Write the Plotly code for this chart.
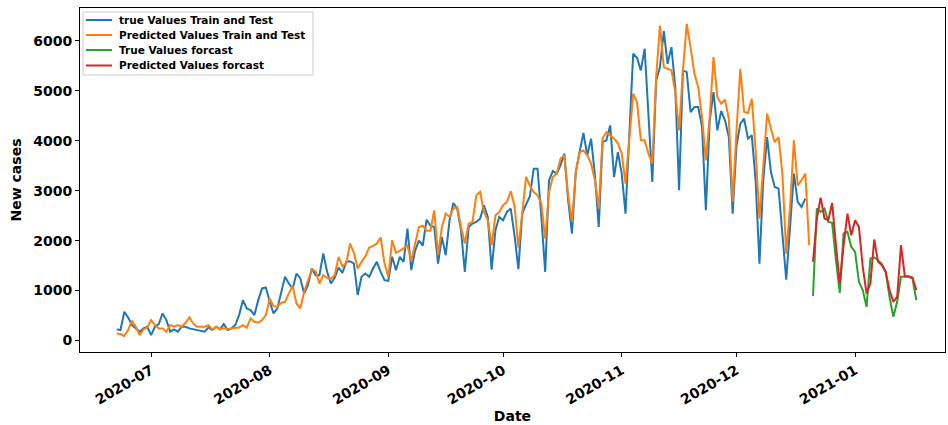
import plotly.graph_objects as go
import pandas as pd

# ---- data ----
true_train = [
    223, 210, 576, 462, 310, 243, 176, 243, 276, 109,
    276, 329, 542, 409, 176, 222, 176, 276, 276, 243,
    229, 209, 196, 176, 262, 209, 276, 222, 329, 209,
    243, 309, 509, 809, 643, 609, 509, 809, 1043, 1063,
    776, 542, 643, 976, 1275, 1142, 1042, 1342, 1242, 942,
    1109, 1442, 1309, 1309, 1742, 1376, 1142, 1262, 1462, 1356,
    1576, 1589, 1542, 909, 1276, 1342, 1276, 1442, 1576, 1376,
    1209, 1196, 1676, 1409, 1676, 1576, 2243, 1409, 1800, 2000,
    1900, 2420, 2300, 2275, 1542, 2075, 1708, 2408, 2755, 2642,
    2208, 1375, 2275, 2342, 2375, 2442, 2709, 2475, 1421, 2208,
    2475, 2408, 2575, 2642, 2100, 1430, 2542, 2720, 2890, 3442,
    3442, 2475, 1375, 3208, 3395, 3342, 3509, 3742, 2809, 2142,
    3375, 3775, 4156, 3709, 4042, 3309, 2275, 3975, 4009, 4309,
    3275, 3775, 3342, 2542, 4000, 5743, 5663, 5410, 5843, 4476,
    3175, 5210, 5476, 6196, 5543, 5876, 5076, 3008, 5410, 5376,
    4576, 4676, 4676, 4276, 2608, 4409, 4976, 4209, 4596, 4409,
    4076, 2542, 3900, 4343, 4443, 4043, 4109, 3209, 1541, 3209,
    4076, 3375, 3075, 3042, 2208, 1221, 2275, 3342, 2775, 2675, 2842,
]

pred_train = [
    142, 129, 89, 209, 396, 276, 109, 222, 262, 409,
    309, 243, 243, 176, 309, 276, 309, 276, 356, 463,
    342, 276, 276, 276, 309, 222, 276, 229, 243, 229,
    243, 256, 262, 309, 256, 443, 376, 356, 409, 509,
    843, 689, 676, 755, 775, 942, 1089, 742, 642, 976,
    1222, 1422, 1389, 1142, 1309, 1256, 1242, 1309, 1676, 1489,
    1542, 1943, 1756, 1442, 1576, 1689, 1862, 1890, 1943, 2063,
    1542, 1276, 2009, 1756, 1796, 1842, 1900, 1600, 1950, 2275,
    2300, 2200, 2200, 2609, 1708, 2275, 2542, 2475, 2642, 2675,
    2275, 1942, 2342, 2375, 2909, 2975, 2575, 2408, 1908, 2508,
    2575, 2709, 2775, 2990, 2690, 1860, 2540, 3276, 3100, 2975,
    2908, 2742, 2042, 2975, 3275, 3342, 3642, 3709, 2908, 2375,
    3375, 3775, 3808, 3709, 3542, 3209, 2642, 4050, 4176, 4110,
    4043, 3950, 3750, 3142, 4000, 4943, 4776, 4009, 4009, 3742,
    3542, 5276, 6310, 5476, 5443, 5410, 4976, 4209, 5410, 6343,
    5876, 5343, 5076, 4476, 3609, 4476, 5676, 4876, 4743, 4823,
    4443, 2775, 4200, 5443, 4576, 4556, 4843, 3809, 2442, 3600,
    4543, 4243, 3975, 4076, 3342, 1741, 2675, 4009, 3109, 3209, 3342, 1908,
]

true_forecast = [
    889, 2643, 2576, 2643, 2376, 2356, 1609, 955, 2143, 2176,
    1876, 1776, 1176, 1009, 675, 1643, 1663, 1609, 1529, 1376,
    875, 475, 775, 1276, 1276, 1276, 1243, 809,
]

pred_forecast = [
    1576, 2443, 2863, 2443, 2410, 2756, 1910, 1142, 1910, 2543,
    2109, 2410, 2276, 1476, 942, 1142, 2023, 1576, 1509, 1376,
    1009, 775, 875, 1910, 1289, 1289, 1263, 1009,
]

series_names = ["true Values Train and Test", "Predicted Values Train and Test",
                "True Values forcast", "Predicted Values forcast"]
series_colors = ["#1f77b4", "#ff7f0e", "#2ca02c", "#d62728"]

train_start = "2020-06-22"
forecast_start = "2020-12-21"

tick_dates = ["2020-07-01", "2020-08-01", "2020-09-01", "2020-10-01",
              "2020-11-01", "2020-12-01", "2021-01-01"]
tick_labels = ["2020-07", "2020-08", "2020-09", "2020-10",
               "2020-11", "2020-12", "2021-01"]
y_ticks = [0, 1000, 2000, 3000, 4000, 5000, 6000]

true_dates = pd.date_range(train_start, periods=len(true_train), freq="D")
pred_dates = pd.date_range(train_start, periods=len(pred_train), freq="D")
fc_dates = pd.date_range(forecast_start, periods=len(true_forecast), freq="D")

FONT = "DejaVu Sans"

fig = go.Figure()
for xs, ys, name, color in zip([true_dates, pred_dates, fc_dates, fc_dates],
                               [true_train, pred_train, true_forecast, pred_forecast],
                               series_names, series_colors):
    fig.add_trace(go.Scatter(x=xs, y=ys, mode="lines", name=name,
                             line=dict(color=color, width=2), showlegend=False))

# ---- matplotlib-style legend box (compact rows) ----
W, H = 865.0, 344.0          # plot area size in px
def px_x(p):
    return (p - 80) / W
def px_y(p):
    return (352 - p) / H

fig.add_shape(type="rect", xref="paper", yref="paper",
              x0=px_x(83), x1=px_x(313), y0=px_y(75), y1=px_y(12),
              line=dict(color="#cccccc", width=1), fillcolor="rgba(255,255,255,0.85)",
              layer="above")
row_y = [20, 35, 50, 65.5]
for ry, name, color in zip(row_y, series_names, series_colors):
    fig.add_shape(type="line", xref="paper", yref="paper",
                  x0=px_x(86), x1=px_x(112), y0=px_y(ry), y1=px_y(ry),
                  line=dict(color=color, width=2), layer="above")
    fig.add_annotation(xref="paper", yref="paper", x=px_x(117), y=px_y(ry),
                       xanchor="left", yanchor="middle", showarrow=False,
                       text=name,
                       font=dict(family=FONT, size=10.5, color="black", weight="bold"))

fig.update_layout(
    width=948, height=425,
    margin=dict(l=80, r=3, t=8, b=73),
    paper_bgcolor="white", plot_bgcolor="white",
    font=dict(family=FONT, color="black"),
    showlegend=False,
    xaxis=dict(
        type="date",
        range=["2020-06-12 10:00", "2021-01-24 12:00"],
        tickvals=tick_dates, ticktext=tick_labels, tickangle=-30,
        tickfont=dict(family=FONT, size=14, color="black", weight="bold"),
        ticks="outside", ticklen=4, tickcolor="black", tickwidth=1,
        showline=True, linecolor="black", linewidth=1, mirror=True,
        showgrid=False, zeroline=False,
        title=dict(text="Date", font=dict(family=FONT, size=14, color="black", weight="bold"),
                   standoff=0),
    ),
    yaxis=dict(
        range=[-230, 6660],
        tickvals=y_ticks,
        tickfont=dict(family=FONT, size=14, color="black", weight="bold"),
        ticks="outside", ticklen=4, tickcolor="black", tickwidth=1,
        showline=True, linecolor="black", linewidth=1, mirror=True,
        showgrid=False, zeroline=False,
        title=dict(text="New cases", font=dict(family=FONT, size=14, color="black", weight="bold"),
                   standoff=8),
    ),
)

fig.write_html("out.html")
